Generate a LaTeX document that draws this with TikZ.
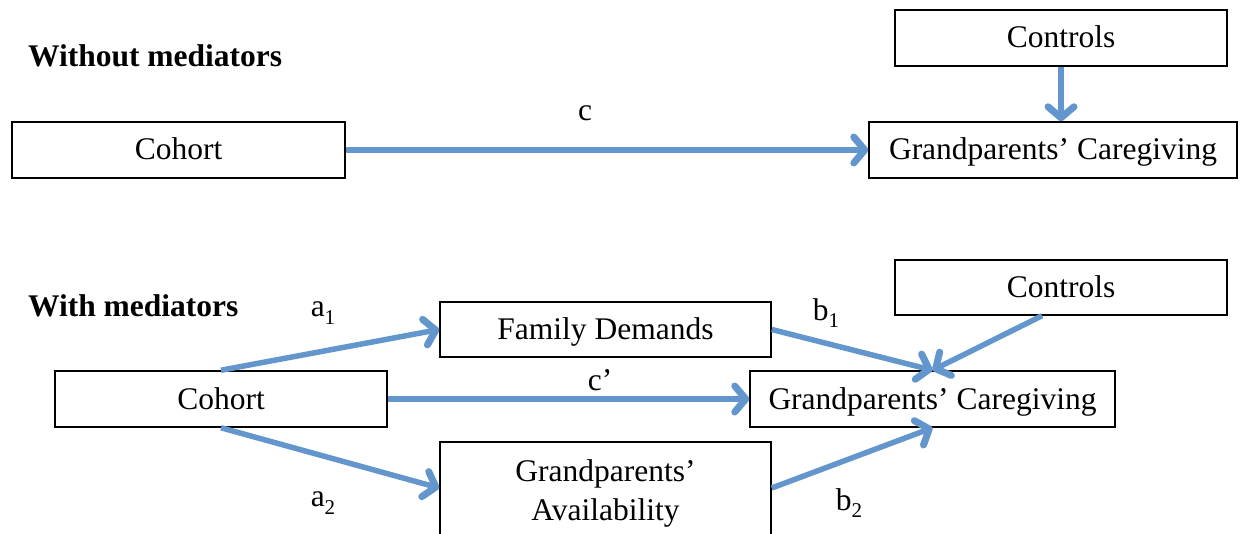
\documentclass[tikz,border=0pt]{standalone}
\usepackage{fontspec}
\setmainfont{Liberation Serif}
\usetikzlibrary{arrows.meta}
\definecolor{arrblue}{RGB}{98,150,205}
\newcommand{\sub}[2]{#1\raisebox{-0.5ex}{\fontsize{21}{21}\selectfont #2}}
\begin{document}
\begin{tikzpicture}[x=1pt,y=-1pt,
  box/.style={draw=black,line width=1.5pt,rectangle,inner sep=0pt,text height=26pt,text depth=6pt,font=\fontsize{31.5}{38}\selectfont},
  lbl/.style={inner sep=0pt,font=\fontsize{31.5}{38}\selectfont},
  head/.style={inner sep=0pt,anchor=west,font=\fontsize{31.5}{38}\selectfont\bfseries},
  conn/.style={draw=arrblue,line width=5.5pt,-{Straight Barb[length=11pt,width=26pt,line width=+1.5pt 1,line cap=round,line join=round]}}]
\useasboundingbox (0,0) rectangle (1252,534);
\clip (0,0) rectangle (1252,534);
% top panel
\node[head] (h1) at (28,56) {Without mediators};
\node[box,minimum width=332pt,minimum height=56pt] (ctl1) at (1061,38) {Controls};
\node[box,minimum width=368pt,minimum height=56pt] (gc1) at (1053,150) {Grandparents’ Caregiving};
\node[box,minimum width=333pt,minimum height=56pt] (coh1) at (178.5,150) {Cohort};
\node[lbl] (c) at (585,113) {c};
\draw[conn] (coh1.east) -- (gc1.west);
\draw[conn] (ctl1.south) -- (ctl1.south |- gc1.north);
% bottom panel
\node[head] (h2) at (28,306) {With mediators};
\node[box,minimum width=332pt,minimum height=55pt] (ctl2) at (1061,287.5) {Controls};
\node[box,minimum width=331pt,minimum height=55pt] (fd) at (605.5,329.5) {Family Demands};
\node[box,minimum width=332pt,minimum height=56pt] (coh2) at (221,399) {Cohort};
\node[box,minimum width=365pt,minimum height=56pt] (gc2) at (932.5,399) {Grandparents’ Caregiving};
\node[draw=black,line width=1.5pt,rectangle,inner sep=0pt,minimum width=331pt,minimum height=102pt,align=center,font=\fontsize{31.5}{39}\selectfont] (av) at (605.5,493) {Grandparents’\\Availability};
\node[lbl] (a1) at (323,313) {\sub{a}{1}};
\node[lbl] (a2) at (323,503) {\sub{a}{2}};
\node[lbl] (b1) at (826,313) {\sub{b}{1}};
\node[lbl] (b2) at (849,503) {\sub{b}{2}};
\node[lbl] (cp) at (600,380) {c’};
\draw[conn] (coh2.north) -- (fd.west);
\draw[conn] (coh2.south) -- (av.west |- 0,488);
\draw[conn] (coh2.east) -- (gc2.west);
\draw[conn] (fd.east) -- (gc2.north);
\draw[conn] (av.east |- 0,488) -- (gc2.south);
\draw[conn] ([xshift=-19pt]ctl2.south) -- (gc2.north);
\end{tikzpicture}
\end{document}
